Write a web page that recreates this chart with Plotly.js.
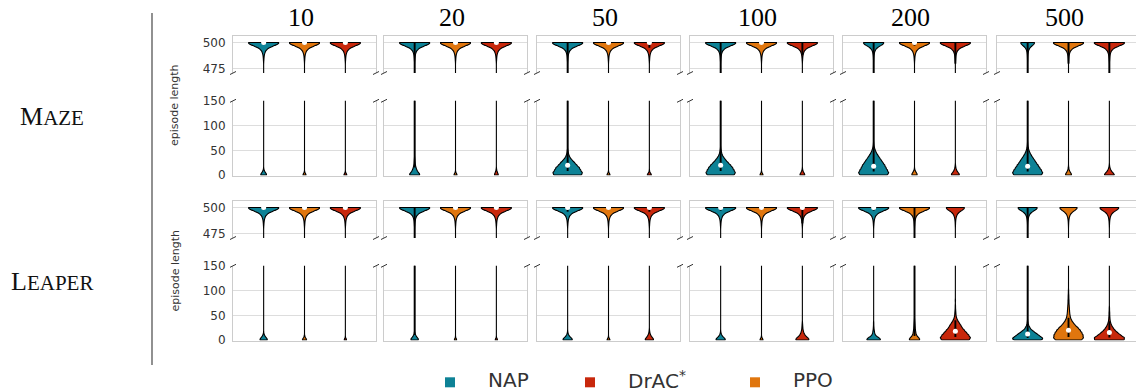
<!DOCTYPE html>
<html><head><meta charset="utf-8">
<script src="https://cdn.plot.ly/plotly-3.0.1.min.js"></script>
<style>html,body{margin:0;padding:0;background:#fff}#chart{width:1136px;height:392px}</style>
</head><body><div id="chart"></div>
<script>
// ---------------- data ----------------
const budgets = ['10', '20', '50', '100', '200', '500'];
const envLabels = ['M<span style="font-size:21px">AZE</span>', 'L<span style="font-size:21px">EAPER</span>'];
const methodsInPanel = ['NAP', 'PPO', 'DrAC*'];
const legendLabels = ['NAP', 'DrAC<sup>*</sup>', 'PPO'];
const legendKeys = ['NAP', 'DrAC*', 'PPO'];
const methodColors = {'NAP': '#0d8296', 'DrAC*': '#c8280c', 'PPO': '#e0760e'};
const topTicks = [475, 500];
const bottomTicks = [0, 50, 100, 150];

// Episode-length samples per budget, run-length encoded as [episode length, count]
const mazeNAP = [
  [[500,100],[497,25],[494,12],[490,5],[485,2],[12,1],[8,4],[4,10],[0,18]],
  [[500,100],[497,25],[494,12],[490,5],[485,2],[35,1],[30,2],[25,3],[20,4],[16,6],[12,9],[8,13],[4,20],[0,30]],
  [[500,100],[497,25],[494,12],[490,5],[485,2],[50,2],[45,4],[40,8],[35,15],[30,28],[25,42],[20,55],[15,70],[10,78],[5,88],[0,88]],
  [[500,100],[497,25],[494,12],[490,5],[485,2],[55,1],[50,3],[45,6],[40,11],[35,20],[30,32],[25,45],[20,60],[15,72],[10,80],[5,88],[0,85]],
  [[500,65],[497,16],[494,8],[490,3],[485,1],[65,1],[60,2],[55,5],[50,10],[45,16],[40,25],[35,35],[30,45],[25,55],[20,65],[15,72],[10,80],[5,88],[0,85]],
  [[500,45],[497,11],[494,5],[490,2],[485,1],[65,1],[60,2],[55,4],[50,8],[45,14],[40,22],[35,32],[30,42],[25,52],[20,62],[15,72],[10,82],[5,90],[0,88]]
];
const mazePPO = [
  [[500,100],[497,25],[494,12],[490,5],[485,2],[4,3],[0,10]],
  [[500,100],[497,25],[494,12],[490,5],[485,2],[4,3],[0,10]],
  [[500,100],[497,25],[494,12],[490,5],[485,2],[4,3],[0,10]],
  [[500,100],[497,25],[494,12],[490,5],[485,2],[4,3],[0,10]],
  [[500,100],[497,25],[494,12],[490,5],[485,2],[12,1],[8,4],[4,10],[0,16]],
  [[500,100],[497,25],[494,12],[490,5],[485,2],[16,1],[12,2],[8,5],[4,11],[0,18]]
];
const mazeDrAC = [
  [[500,100],[497,25],[494,12],[490,5],[485,2],[4,2],[0,10]],
  [[500,100],[497,25],[494,12],[490,5],[485,2],[12,1],[8,3],[4,6],[0,12]],
  [[500,100],[497,25],[494,12],[490,5],[485,2],[8,1],[4,4],[0,14]],
  [[500,100],[497,25],[494,12],[490,5],[485,2],[12,1],[8,3],[4,8],[0,15]],
  [[500,100],[497,25],[494,12],[490,5],[485,2],[20,1],[16,2],[12,4],[8,8],[4,15],[0,24]],
  [[500,100],[497,25],[494,12],[490,5],[485,2],[20,1],[16,2],[12,5],[8,10],[4,18],[0,30]]
];
const leaperNAP = [
  [[500,100],[497,25],[494,12],[490,5],[485,2],[12,2],[8,6],[4,14],[0,22]],
  [[500,100],[497,25],[494,12],[490,5],[485,2],[16,1],[12,3],[8,7],[4,15],[0,22]],
  [[500,100],[497,25],[494,12],[490,5],[485,2],[16,1],[12,3],[8,8],[4,18],[0,28]],
  [[500,100],[497,25],[494,12],[490,5],[485,2],[16,1],[12,3],[8,8],[4,18],[0,28]],
  [[500,100],[497,25],[494,12],[490,5],[485,2],[35,1],[30,1],[25,2],[20,3],[16,4],[12,6],[8,12],[4,28],[0,40]],
  [[500,73],[497,18],[494,9],[490,4],[485,1],[40,1],[35,3],[30,7],[25,16],[20,26],[16,38],[12,55],[8,68],[4,85],[0,90]]
];
const leaperPPO = [
  [[500,100],[497,25],[494,12],[490,5],[485,2],[8,1],[4,5],[0,14]],
  [[500,100],[497,25],[494,12],[490,5],[485,2],[3,2],[0,7]],
  [[500,100],[497,25],[494,12],[490,5],[485,2],[4,2],[0,10]],
  [[500,100],[497,25],[494,12],[490,5],[485,2],[4,3],[0,10]],
  [[500,100],[497,25],[494,12],[490,5],[485,2],[40,1],[35,2],[30,3],[25,4],[20,5],[16,6],[12,8],[8,12],[4,22],[0,30]],
  [[500,55],[497,14],[494,7],[490,3],[485,1],[100,1],[95,1],[90,2],[85,2],[80,3],[75,3],[70,4],[65,5],[60,6],[55,7],[50,9],[45,12],[40,18],[35,28],[30,40],[25,55],[20,68],[15,78],[10,85],[5,88],[0,80]]
];
const leaperDrAC = [
  [[500,100],[497,25],[494,12],[490,5],[485,2],[3,2],[0,7]],
  [[500,100],[497,25],[494,12],[490,5],[485,2],[3,2],[0,7]],
  [[500,100],[497,25],[494,12],[490,5],[485,2],[20,1],[16,2],[12,4],[8,9],[4,16],[0,25]],
  [[500,100],[497,25],[494,12],[490,5],[485,2],[35,1],[30,2],[25,3],[20,4],[16,6],[12,10],[8,16],[4,28],[0,38]],
  [[500,58],[497,14],[494,7],[490,3],[485,1],[80,1],[70,1],[65,1],[60,2],[55,3],[50,4],[45,7],[40,13],[35,22],[30,32],[25,40],[20,52],[15,65],[10,78],[5,88],[0,85]],
  [[500,56],[497,14],[494,7],[490,3],[485,1],[65,1],[60,1],[55,2],[50,2],[45,3],[40,4],[35,7],[30,12],[25,20],[20,30],[15,45],[10,62],[5,82],[0,85]]
];

// Medians (white dot) and inner boxes [q1, q3] (null = not visible)
const mazeNAPMedian = [500, null, 20, 20, 18, 18];
const mazePPOMedian = [500, 500, 500, 500, 500, null];
const mazeDrACMedian = [500, 500, 500, null, null, null];
const leaperNAPMedian = [500, null, 500, 500, 500, 12];
const leaperPPOMedian = [500, 500, 500, 500, null, 20];
const leaperDrACMedian = [500, 500, 500, 500, 18, 15];

const mazeNAPBox = [[498,500],[15,500],[8,500],[8,500],[7,500],[7,500]];
const mazePPOBox = [[498,500],[498,500],[498,500],[498,500],[497,500],[480,500]];
const mazeDrACBox = [[498,500],[498,500],[495,500],[488,500],[480,500],[470,500]];
const leaperNAPBox = [[498,500],[10,500],[496,500],[497,500],[497,500],[4,500]];
const leaperPPOBox = [[498,500],[498,500],[498,500],[498,500],[8,500],[6,45]];
const leaperDrACBox = [[498,500],[498,500],[496,500],[485,500],[6,40],[5,38]];

// ---------------- build ----------------
const samples = [
  {'NAP': mazeNAP, 'PPO': mazePPO, 'DrAC*': mazeDrAC},
  {'NAP': leaperNAP, 'PPO': leaperPPO, 'DrAC*': leaperDrAC}
];
const medians = [
  {'NAP': mazeNAPMedian, 'PPO': mazePPOMedian, 'DrAC*': mazeDrACMedian},
  {'NAP': leaperNAPMedian, 'PPO': leaperPPOMedian, 'DrAC*': leaperDrACMedian}
];
const boxes = [
  {'NAP': mazeNAPBox, 'PPO': mazePPOBox, 'DrAC*': mazeDrACBox},
  {'NAP': leaperNAPBox, 'PPO': leaperPPOBox, 'DrAC*': leaperDrACBox}
];
function expand(rle) { const out = []; rle.forEach(([v, c]) => { for (let i = 0; i < c; i++) out.push(v); }); return out; }

const W = 1136, H = 392;
const px = p => p / W, py = p => 1 - p / H;
const colLeft = [233, 384, 537, 690, 843, 997];
const panelW = 143, pxPerCat = 40.86;
const bands = [
  {t: 36, b: 73, range: [471.2, 506.1], ticks: topTicks, top: true},
  {t: 100.8, b: 175.5, range: [-1, 150.5], ticks: bottomTicks, top: false},
  {t: 201, b: 238, range: [471.2, 506.1], ticks: topTicks, top: true},
  {t: 265.8, b: 340.5, range: [-1, 150.5], ticks: bottomTicks, top: false}
];

const traces = [], lineTraces = [], dotTraces = [];
const layout = {
  width: W, height: H, margin: {l: 0, r: 0, t: 0, b: 0, pad: 0},
  paper_bgcolor: '#fff', plot_bgcolor: '#fff', showlegend: false,
  font: {family: 'DejaVu Sans', color: '#333'},
  violinmode: 'overlay',
  shapes: [], annotations: []
};

for (let band = 0; band < 4; band++) {
  const env = Math.floor(band / 2);
  const B = bands[band];
  for (let c = 0; c < 6; c++) {
    const n = band * 6 + c + 1;
    const sfx = n === 1 ? '' : String(n);
    const left = colLeft[c], right = Math.min(left + panelW, W);
    layout['xaxis' + sfx] = {
      domain: [px(left), px(right)], range: [-0.75, -0.75 + (right - left) / pxPerCat],
      anchor: 'y' + sfx, type: 'linear', showgrid: false, zeroline: false, showticklabels: false,
      ticks: '', showline: true, side: B.top ? 'top' : 'bottom', linecolor: '#cccccc', linewidth: 1, fixedrange: true
    };
    layout['yaxis' + sfx] = {
      domain: [py(B.b), py(B.t)], range: B.range, anchor: 'x' + sfx, tickvals: B.ticks,
      showticklabels: c === 0, showgrid: true, gridcolor: '#dddddd', gridwidth: 1, zeroline: false,
      showline: true, mirror: c !== 5, linecolor: '#cccccc', linewidth: 1, ticks: '', ticklabelstandoff: 4,
      tickfont: {family: 'DejaVu Sans', size: 12, color: '#333'}, fixedrange: true
    };
    methodsInPanel.forEach((m, k) => {
      traces.push({
        type: 'violin', x0: k, y: expand(samples[env][m][c]), xaxis: 'x' + sfx, yaxis: 'y' + sfx,
        orientation: 'v', width: 0.734, scalemode: 'width', scalegroup: 'g' + env + '_' + c + '_' + k,
        spanmode: 'hard', bandwidth: 2.5, points: false, box: {visible: false}, meanline: {visible: false},
        fillcolor: methodColors[m], line: {color: '#000', width: 1.1}, opacity: 1,
        hoverinfo: 'skip', showlegend: false, name: m
      });
      const bx = boxes[env][m][c];
      if (bx) lineTraces.push({type: 'scatter', mode: 'lines', x: [k, k], y: bx, xaxis: 'x' + sfx, yaxis: 'y' + sfx,
        line: {color: '#000', width: 1.9}, hoverinfo: 'skip', showlegend: false});
      const md = medians[env][m][c];
      if (md !== null) dotTraces.push({type: 'scatter', mode: 'markers', x: [k], y: [md], xaxis: 'x' + sfx, yaxis: 'y' + sfx,
        marker: {color: '#fff', size: 5, line: {width: 0}}, hoverinfo: 'skip', showlegend: false});
    });
    // axis break marks
    const yMark = B.top ? B.b : B.t;
    [left, left + panelW].forEach(xe => {
      if (xe > W - 2) return;
      layout.shapes.push({type: 'line', xref: 'paper', yref: 'paper',
        x0: px(xe - 3), y0: py(yMark + 1.5), x1: px(xe + 3), y1: py(yMark - 1.5),
        line: {color: '#333', width: 1}});
    });
  }
}

// column titles
budgets.forEach((b, c) => {
  layout.annotations.push({text: b, xref: 'paper', yref: 'paper', x: px(colLeft[c] + panelW / 2 - 4), y: py(17),
    xanchor: 'center', yanchor: 'middle', showarrow: false, font: {family: 'Liberation Serif', size: 26, color: '#000'}});
});
// row labels and y titles
[[116.7, 105.5], [281, 271]].forEach(([yl, yt], r) => {
  layout.annotations.push({text: envLabels[r], xref: 'paper', yref: 'paper', x: px(52), y: py(yl),
    xanchor: 'center', yanchor: 'middle', showarrow: false, font: {family: 'Liberation Serif', size: 26, color: '#111'}});
  layout.annotations.push({text: 'episode length', textangle: -90, xref: 'paper', yref: 'paper', x: px(174.5), y: py(yt),
    xanchor: 'center', yanchor: 'middle', showarrow: false, font: {family: 'DejaVu Sans', size: 11, color: '#333'}});
});
// separator
layout.shapes.push({type: 'line', xref: 'paper', yref: 'paper', x0: px(152), x1: px(152), y0: py(13), y1: py(365),
  line: {color: '#555', width: 1.3}});
// legend
const legSquare = [450, 590, 755], legText = [486, 626, 791];
legendKeys.forEach((k, i) => {
  layout.shapes.push({type: 'rect', xref: 'paper', yref: 'paper', x0: px(legSquare[i] - 5), x1: px(legSquare[i] + 5),
    y0: py(387.3), y1: py(377.3), fillcolor: methodColors[k], line: {width: 0}});
  layout.annotations.push({text: legendLabels[i], xref: 'paper', yref: 'paper', x: px(legText[i]), y: py(380),
    xanchor: 'left', yanchor: 'middle', showarrow: false, font: {family: 'DejaVu Sans', size: 20, color: '#333'}});
});

Plotly.newPlot('chart', traces.concat(lineTraces, dotTraces), layout, {staticPlot: true, displayModeBar: false});
</script>
</body></html>
